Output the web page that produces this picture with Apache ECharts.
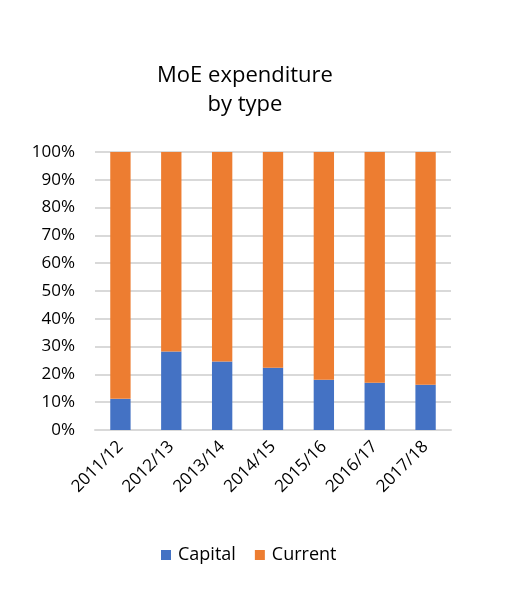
<!DOCTYPE html>
<html>
<head>
<meta charset="utf-8">
<script src="https://cdn.jsdelivr.net/npm/echarts@6/dist/echarts.min.js"></script>
<style>html,body{margin:0;padding:0;background:#fff}#c{width:516px;height:602px}</style>
</head>
<body>
<div id="c"></div>
<script>
var categories = ['2011/12','2012/13','2013/14','2014/15','2015/16','2016/17','2017/18'];
var capital = [11.2, 28.2, 24.6, 22.4, 18.1, 17.0, 16.3];
var current = [88.8, 71.8, 75.4, 77.6, 81.9, 83.0, 83.7];
var yTicks = [0,10,20,30,40,50,60,70,80,90,100];

var chart = echarts.init(document.getElementById('c'), null, {renderer:'canvas'});
var font = "'Open Sans', 'Liberation Sans', sans-serif";
chart.setOption({
  animation: false,
  backgroundColor: '#fff',
  title: {
    text: 'MoE expenditure\nby type',
    left: 240, top: 56, textAlign: 'center',
    textStyle: {fontFamily: font, fontSize: 22, fontWeight: 'normal', color: '#000', lineHeight: 29}
  },
  legend: {
    data: ['Capital','Current'],
    top: 541, left: 156,
    itemWidth: 10, itemHeight: 10, itemGap: 19,
    icon: 'rect',
    textStyle: {fontFamily: font, fontSize: 18, color: '#000', padding: [0,0,0,2]}
  },
  grid: {left: 95, right: 65, top: 152, bottom: 172, containLabel: false},
  xAxis: {
    type: 'category', data: categories,
    axisLine: {show: true, lineStyle: {color: '#d9d9d9', width: 2}},
    axisTick: {show: false},
    axisLabel: {rotate: 45, fontFamily: font, fontSize: 17, color: '#000', margin: 14, interval: 0}
  },
  yAxis: {
    type: 'value', min: 0, max: 100, interval: 10,
    axisLine: {show: false}, axisTick: {show: false},
    splitLine: {lineStyle: {color: '#d9d9d9', width: 2}},
    axisLabel: {fontFamily: font, fontSize: 17, color: '#000', margin: 20,
      formatter: function(v){ return yTicks.indexOf(v) >= 0 ? v + '%' : ''; }}
  },
  series: [
    {name: 'Capital', type: 'bar', stack: 't', data: capital, barWidth: '40%',
     itemStyle: {color: '#4472c4'}},
    {name: 'Current', type: 'bar', stack: 't', data: current, barWidth: '40%',
     itemStyle: {color: '#ed7d31'}}
  ]
});
</script>
</body>
</html>
